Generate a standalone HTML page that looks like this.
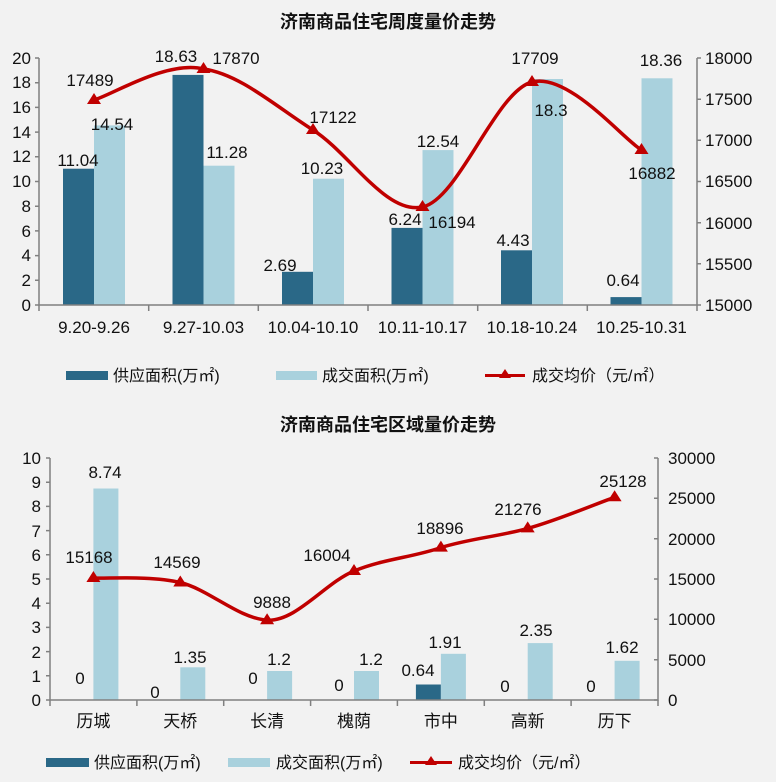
<!DOCTYPE html>
<html><head><meta charset="utf-8"><style>
html,body{margin:0;padding:0;background:#f2f2f2}
svg{display:block}
text{font-family:"Liberation Sans","Noto Sans CJK SC",sans-serif;fill:#111}
</style></head><body>
<svg width="776" height="782" viewBox="0 0 776 782" xmlns="http://www.w3.org/2000/svg">
<rect width="776" height="782" fill="#f2f2f2"/>
<!-- Chart 1 -->
<text x="388" y="28" text-anchor="middle" font-size="18" font-weight="bold" style="font-family:'Noto Sans CJK SC',sans-serif">济南商品住宅周度量价走势</text>
<g fill="#2a6887">
<rect x="63" y="168.7" width="31" height="136.3"/>
<rect x="172.5" y="74.9" width="31" height="230.1"/>
<rect x="282" y="271.8" width="31" height="33.2"/>
<rect x="391.5" y="227.9" width="31" height="77.1"/>
<rect x="501" y="250.3" width="31" height="54.7"/>
<rect x="610.5" y="297.1" width="31" height="7.9"/>
</g>
<g fill="#a9d1dd">
<rect x="94" y="125.4" width="31" height="179.6"/>
<rect x="203.5" y="165.7" width="31" height="139.3"/>
<rect x="313" y="178.7" width="31" height="126.3"/>
<rect x="422.5" y="150.1" width="31" height="154.9"/>
<rect x="532" y="79" width="31" height="226"/>
<rect x="641.5" y="78.3" width="31" height="226.7"/>
</g>
<g stroke="#808080" stroke-width="1.5" fill="none">
<path d="M39 58V305H697V58"/>
<path d="M35 305H39M35 280.3H39M35 255.6H39M35 230.9H39M35 206.2H39M35 181.5H39M35 156.8H39M35 132.1H39M35 107.4H39M35 82.7H39M35 58H39"/>
<path d="M697 305H701M697 263.8H701M697 222.7H701M697 181.5H701M697 140.3H701M697 99.2H701M697 58H701"/>
<path d="M39 305V311M148.7 305V311M258.3 305V311M368 305V311M477.7 305V311M587.3 305V311M697 305V311"/>
</g>
<g font-size="17" text-anchor="end">
<text x="31" y="311">0</text><text x="31" y="286">2</text><text x="31" y="261">4</text><text x="31" y="237">6</text><text x="31" y="212">8</text><text x="31" y="187">10</text><text x="31" y="162">12</text><text x="31" y="138">14</text><text x="31" y="113">16</text><text x="31" y="88">18</text><text x="31" y="64">20</text>
</g>
<g font-size="17">
<text x="705" y="311">15000</text><text x="705" y="270">15500</text><text x="705" y="229">16000</text><text x="705" y="187">16500</text><text x="705" y="146">17000</text><text x="705" y="105">17500</text><text x="705" y="64">18000</text>
</g>
<g font-size="17" text-anchor="middle">
<text x="94" y="333">9.20-9.26</text><text x="203.5" y="333">9.27-10.03</text><text x="313" y="333">10.04-10.10</text><text x="422.5" y="333">10.11-10.17</text><text x="532" y="333">10.18-10.24</text><text x="641.5" y="333">10.25-10.31</text>
</g>
<path d="M94 100C112 95 167 60 203.5 69C240 74 276.5 107 313 130C349.5 153 386 215 422.5 207C459 199 495.5 91.5 532 82C568.5 72.5 623 139 641.5 150" fill="none" stroke="#c00000" stroke-width="3.5"/>
<g fill="#c00000">
<path d="M94 93l7 11h-14z"/><path d="M203.5 62l7 11h-14z"/><path d="M313 123l7 11h-14z"/><path d="M422.5 200l7 11h-14z"/><path d="M532 75l7 11h-14z"/><path d="M641.5 143l7 11h-14z"/>
</g>
<g font-size="17" text-anchor="middle">
<text x="78" y="166">11.04</text><text x="112" y="130">14.54</text><text x="90" y="86">17489</text>
<text x="176" y="62">18.63</text><text x="236" y="64">17870</text><text x="227" y="158">11.28</text>
<text x="333" y="123">17122</text><text x="322" y="174">10.23</text><text x="280" y="271">2.69</text>
<text x="405" y="225">6.24</text><text x="438" y="147">12.54</text><text x="452" y="228">16194</text>
<text x="535" y="64">17709</text><text x="551" y="116">18.3</text><text x="513" y="246">4.43</text>
<text x="652" y="179">16882</text><text x="623" y="286">0.64</text><text x="661" y="66">18.36</text>
</g>
<g font-size="16">
<rect x="66" y="371" width="42" height="9" fill="#2a6887"/><text x="113" y="381">供应面积(万㎡)</text>
<rect x="276" y="371" width="41" height="9" fill="#a9d1dd"/><text x="322" y="381">成交面积(万㎡)</text>
<path d="M485 375.5H525" stroke="#c00000" stroke-width="3"/><path d="M505 369l6 9h-12z" fill="#c00000"/><text x="532" y="381">成交均价（元/㎡）</text>
</g>
<!-- Chart 2 -->
<text x="388" y="431" text-anchor="middle" font-size="18" font-weight="bold" style="font-family:'Noto Sans CJK SC',sans-serif">济南商品住宅区域量价走势</text>
<rect x="415.9" y="684.5" width="25" height="15.5" fill="#2a6887"/>
<g fill="#a9d1dd">
<rect x="93.4" y="488.5" width="25" height="211.5"/>
<rect x="180.3" y="667.3" width="25" height="32.7"/>
<rect x="267.1" y="671" width="25" height="29"/>
<rect x="354" y="671" width="25" height="29"/>
<rect x="440.9" y="653.8" width="25" height="46.2"/>
<rect x="527.7" y="643.1" width="25" height="56.9"/>
<rect x="614.6" y="660.8" width="25" height="39.2"/>
</g>
<g stroke="#808080" stroke-width="1.5" fill="none">
<path d="M50 458V700H658V458"/>
<path d="M46 700H50M46 675.8H50M46 651.6H50M46 627.4H50M46 603.2H50M46 579H50M46 554.8H50M46 530.6H50M46 506.4H50M46 482.2H50M46 458H50"/>
<path d="M654 700H658M654 659.7H658M654 619.3H658M654 579H658M654 538.7H658M654 498.3H658M654 458H658"/>
<path d="M50 700V706M136.9 700V706M223.7 700V706M310.6 700V706M397.4 700V706M484.3 700V706M571.1 700V706M658 700V706"/>
</g>
<g font-size="17" text-anchor="end">
<text x="41" y="706">0</text><text x="41" y="682">1</text><text x="41" y="658">2</text><text x="41" y="633">3</text><text x="41" y="609">4</text><text x="41" y="585">5</text><text x="41" y="561">6</text><text x="41" y="537">7</text><text x="41" y="512">8</text><text x="41" y="488">9</text><text x="41" y="464">10</text>
</g>
<g font-size="17">
<text x="668" y="706">0</text><text x="668" y="666">5000</text><text x="668" y="625">10000</text><text x="668" y="585">15000</text><text x="668" y="545">20000</text><text x="668" y="504">25000</text><text x="668" y="464">30000</text>
</g>
<g font-size="17" text-anchor="middle">
<text x="93.4" y="727">历城</text><text x="180.3" y="727">天桥</text><text x="267.1" y="727">长清</text><text x="354" y="727">槐荫</text><text x="440.9" y="727">市中</text><text x="527.7" y="727">高新</text><text x="614.6" y="727">历下</text>
</g>
<path d="M93.4 578C107.5 578.7 151 575.5 180.3 582.5C209 589.5 238 618.1 267.1 620.2C296 621.9 325 583 354 571C383 559 412 557.5 440.9 547.6C470 538.5 499 536.5 527.7 528.4C557 520.5 600.5 502 614.6 497.3" fill="none" stroke="#c00000" stroke-width="3.5"/>
<g fill="#c00000">
<path d="M93.4 571l7 11h-14z"/><path d="M180.3 575.5l7 11h-14z"/><path d="M267.1 613.2l7 11h-14z"/><path d="M354 564l7 11h-14z"/><path d="M440.9 540.6l7 11h-14z"/><path d="M527.7 521.4l7 11h-14z"/><path d="M614.6 490.3l7 11h-14z"/>
</g>
<g font-size="17" text-anchor="middle">
<text x="105" y="478">8.74</text><text x="89" y="563">15168</text><text x="80" y="684">0</text>
<text x="177" y="568">14569</text><text x="190" y="663">1.35</text><text x="155" y="698">0</text>
<text x="272" y="608">9888</text><text x="253" y="684">0</text><text x="279" y="665">1.2</text>
<text x="327" y="561">16004</text><text x="339" y="691">0</text><text x="371" y="665">1.2</text>
<text x="440" y="534">18896</text><text x="418" y="676">0.64</text><text x="445" y="648">1.91</text>
<text x="518" y="515">21276</text><text x="505" y="692">0</text><text x="536" y="636">2.35</text>
<text x="623" y="487">25128</text><text x="591" y="692">0</text><text x="622" y="653">1.62</text>
</g>
<g font-size="16">
<rect x="46" y="758" width="43" height="9" fill="#2a6887"/><text x="94" y="768">供应面积(万㎡)</text>
<rect x="228" y="758" width="42" height="9" fill="#a9d1dd"/><text x="276" y="768">成交面积(万㎡)</text>
<path d="M410 762.5H452" stroke="#c00000" stroke-width="3"/><path d="M431 756l6 9h-12z" fill="#c00000"/><text x="458" y="768">成交均价（元/㎡）</text>
</g>
</svg>
</body></html>
